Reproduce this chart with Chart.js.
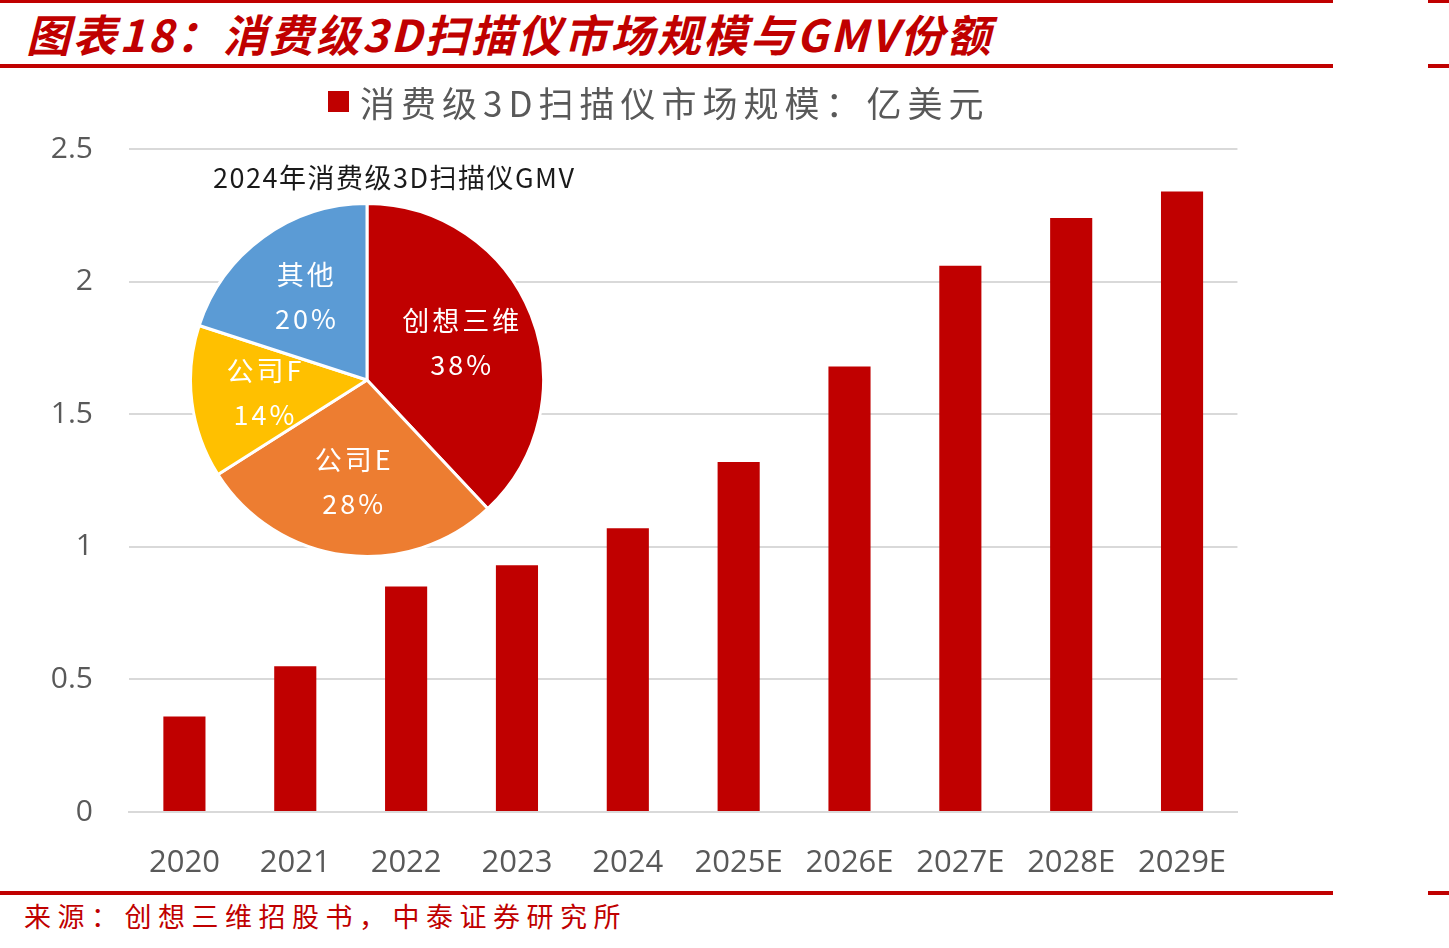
<!DOCTYPE html>
<html>
<head>
<meta charset="utf-8">
<script src="https://cdn.jsdelivr.net/npm/chart.js@4"></script>
<style>
    body { margin: 0; background: #fff; }
    #page { position: relative; width: 1449px; height: 948px; overflow: hidden; background: #fff; }
    .rule { position: absolute; background: #C00000; }
    .txt { position: absolute; white-space: nowrap; font-family: "Noto Sans CJK SC", sans-serif; }
    #title { left: 26px; top: 4px; font-size: 44px; line-height: 58px; font-weight: 700; font-style: italic; color: #C00000; letter-spacing: 2.5px; }
    #legend { left: 328px; top: 78px; height: 46px; display: flex; align-items: center; }
    #legend .box { width: 21px; height: 21px; background: #C00000; margin-right: 11px; }
    #legend .lbl { font-size: 35px; color: #595959; letter-spacing: 6px; }
    #pieTitle { left: 213px; top: 158px; font-size: 27px; line-height: 38px; color: #1a1a1a; letter-spacing: 1.5px; }
    #source { left: 24px; top: 897px; font-size: 27px; line-height: 38px; color: #C00000; letter-spacing: 6.5px; }
    #barCanvas { position: absolute; left: 0; top: 95px; }
    #pieCanvas { position: absolute; left: 189px; top: 202px; }
</style>
</head>
<body>
<div id="page">
    <div class="rule" style="left:0;top:0;width:1333px;height:3px"></div>
    <div class="rule" style="left:1428px;top:0;width:21px;height:3px"></div>
    <div class="txt" id="title">图表18：消费级3D扫描仪市场规模与GMV份额</div>
    <div class="rule" style="left:0;top:64px;width:1333px;height:4px"></div>
    <div class="rule" style="left:1428px;top:64px;width:21px;height:4px"></div>
    <canvas id="barCanvas" width="1260" height="795"></canvas>
    <div class="txt" id="legend"></div>
    <div class="txt" id="pieTitle">2024年消费级3D扫描仪GMV</div>
    <canvas id="pieCanvas" width="356" height="356"></canvas>
    <div class="rule" style="left:0;top:891px;width:1333px;height:4px"></div>
    <div class="rule" style="left:1428px;top:891px;width:21px;height:4px"></div>
    <div class="txt" id="source">来源：创想三维招股书，中泰证券研究所</div>
</div>
<script>
    // 市场规模（亿美元）
    const years = ['2020', '2021', '2022', '2023', '2024', '2025E', '2026E', '2027E', '2028E', '2029E'];
    const marketSize = [0.36, 0.55, 0.85, 0.93, 1.07, 1.32, 1.68, 2.06, 2.24, 2.34];
    const seriesName = '消费级3D扫描仪市场规模：亿美元';

    // 2024年GMV份额（%）
    const shareNames = ['创想三维', '公司E', '公司F', '其他'];
    const shareValues = [38, 28, 14, 20];
    const shareColors = ['#C00000', '#ED7D31', '#FFC000', '#5B9BD5'];

    const RED = '#C00000';
    const GRID = '#D9D9D9';
    const TICK = '#595959';

    // 图例（HTML，便于设置字距）
    const legendEl = document.getElementById('legend');
    legendEl.innerHTML = '<div class="box"></div><div class="lbl">' + seriesName + '</div>';

    new Chart(document.getElementById('barCanvas'), {
        type: 'bar',
        data: {
            labels: years,
            datasets: [{
                label: seriesName,
                data: marketSize,
                backgroundColor: RED,
                borderWidth: 0,
                categoryPercentage: 1,
                barPercentage: 0.38
            }]
        },
        options: {
            responsive: false,
            animation: false,
            layout: { padding: { top: 18, right: 18, left: 0, bottom: 0 } },
            plugins: {
                legend: { display: false },
                tooltip: { enabled: false }
            },
            scales: {
                y: {
                    min: 0,
                    max: 2.5,
                    afterFit: (scale) => { scale.width = 129; },
                    border: { display: false },
                    grid: { color: GRID, lineWidth: 2, drawTicks: false },
                    ticks: {
                        stepSize: 0.5,
                        padding: 36,
                        color: TICK,
                        font: { family: 'Open Sans', size: 30 },
                        callback: (v) => String(v)
                    }
                },
                x: {
                    afterFit: (scale) => { scale.height = 78; },
                    border: { display: true, color: GRID, width: 2 },
                    grid: { display: false, drawTicks: false },
                    ticks: {
                        padding: 33,
                        color: TICK,
                        maxRotation: 0,
                        autoSkip: false,
                        font: { family: 'Open Sans', size: 31 }
                    }
                }
            }
        }
    });

    // 饼图扇区标签
    const sliceLabels = {
        id: 'sliceLabels',
        afterDatasetsDraw(chart) {
            const ctx = chart.ctx;
            const meta = chart.getDatasetMeta(0);
            const total = shareValues.reduce((a, b) => a + b, 0);
            ctx.save();
            ctx.fillStyle = '#fff';
            ctx.textAlign = 'center';
            ctx.textBaseline = 'middle';
            ctx.font = '27px "Noto Sans CJK SC", sans-serif';
            if ('letterSpacing' in ctx) ctx.letterSpacing = '3px';
            meta.data.forEach((arc, i) => {
                const p = arc.getProps(['x', 'y', 'startAngle', 'endAngle', 'outerRadius'], true);
                const mid = (p.startAngle + p.endAngle) / 2;
                const r = p.outerRadius * 0.58;
                const cx = p.x + Math.cos(mid) * r;
                const cy = p.y + Math.sin(mid) * r;
                const pct = Math.round(shareValues[i] / total * 100) + '%';
                ctx.fillText(shareNames[i], cx, cy - 22);
                ctx.fillText(pct, cx, cy + 22);
            });
            ctx.restore();
        }
    };

    new Chart(document.getElementById('pieCanvas'), {
        type: 'pie',
        data: {
            labels: shareNames,
            datasets: [{
                data: shareValues,
                backgroundColor: shareColors,
                borderColor: '#fff',
                borderWidth: 3
            }]
        },
        options: {
            responsive: false,
            animation: false,
            layout: { padding: 0 },
            plugins: {
                legend: { display: false },
                tooltip: { enabled: false }
            }
        },
        plugins: [sliceLabels]
    });
</script>
</body>
</html>
